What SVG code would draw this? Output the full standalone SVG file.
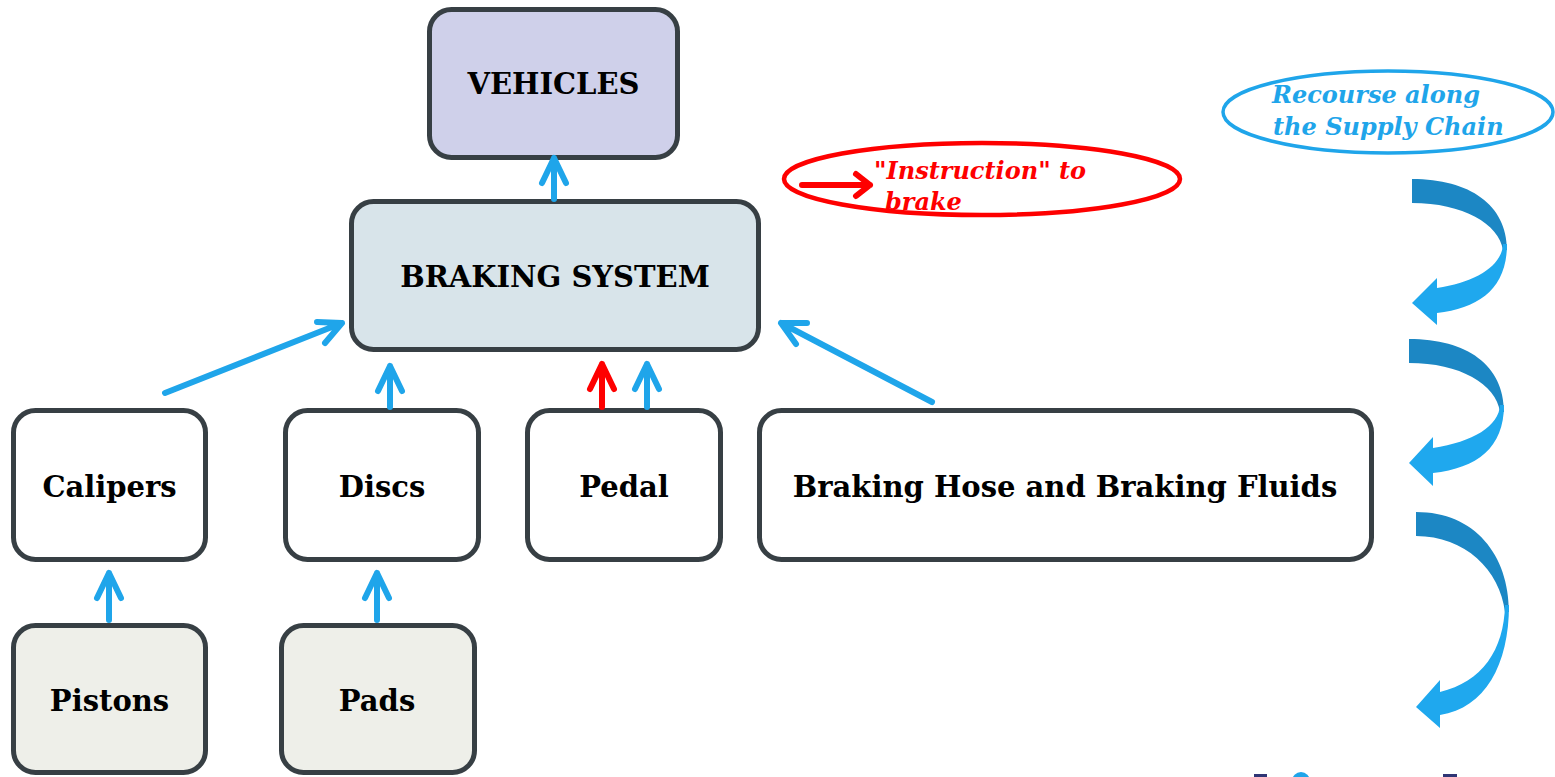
<svg xmlns="http://www.w3.org/2000/svg" width="1555" height="777" viewBox="0 0 1555 777">
<defs>
<style>
.box{stroke:#373f44;stroke-width:5}
.lbl{font-family:"DejaVu Serif","Liberation Serif",serif;font-weight:bold;font-size:29px;fill:#000;text-anchor:middle}
.conn{fill:none;stroke:#1fa5ea;stroke-width:6;stroke-linecap:round;stroke-linejoin:round}
.red{stroke:#fe0000}
.note{font-family:"DejaVu Serif","Liberation Serif",serif;font-weight:bold;font-style:italic;font-size:24px}
.dark{fill:#1c87c4}
.light{fill:#1fa8ee}
</style>
</defs>
<rect width="1555" height="777" fill="#fff"/>
<g id="vehicles"><rect class="box" x="429.5" y="9.5" width="248" height="148" rx="22" fill="#cfd0ea"/><text class="lbl" x="553.5" y="94" font-size="30">VEHICLES</text></g>
<g id="braking-system"><rect class="box" x="351.5" y="201.5" width="407" height="148" rx="22" fill="#d8e4ea"/><text class="lbl" x="555" y="287" font-size="30">BRAKING SYSTEM</text></g>
<g id="calipers"><rect class="box" x="13.5" y="410.5" width="192" height="149" rx="22" fill="#fff"/><text class="lbl" x="109.5" y="497">Calipers</text></g>
<g id="discs"><rect class="box" x="285.5" y="410.5" width="193" height="149" rx="22" fill="#fff"/><text class="lbl" x="382" y="497">Discs</text></g>
<g id="pedal"><rect class="box" x="527.5" y="410.5" width="193" height="149" rx="22" fill="#fff"/><text class="lbl" x="624" y="497">Pedal</text></g>
<g id="hose"><rect class="box" x="759.5" y="410.5" width="612" height="149" rx="22" fill="#fff"/><text class="lbl" x="1065" y="497">Braking Hose and Braking Fluids</text></g>
<g id="pistons"><rect class="box" x="13.5" y="625.5" width="192" height="147" rx="22" fill="#eeefe9"/><text class="lbl" x="109.5" y="711">Pistons</text></g>
<g id="pads"><rect class="box" x="281.5" y="625.5" width="193" height="147" rx="22" fill="#eeefe9"/><text class="lbl" x="377" y="711">Pads</text></g>
<g id="connectors">
<path class="conn" d="M554,199 V158 M542,183 L554,158 L566,183"/>
<path class="conn" d="M165,393 L342,323 M317,322 L342,323 L325,343"/>
<path class="conn" d="M390,407 V366 M378,391 L390,366 L402,391"/>
<path class="conn red" d="M602,407 V364 M590,389 L602,364 L614,389"/>
<path class="conn" d="M647,407 V364 M635,389 L647,364 L659,389"/>
<path class="conn" d="M932,402 L781,323 M807,323 L781,323 L796,344"/>
<path class="conn" d="M109,620 V573 M97,598 L109,573 L121,598"/>
<path class="conn" d="M377,620 V573 M365,598 L377,573 L389,598"/>
</g>
<g id="instruction-note">
<ellipse cx="982" cy="179" rx="198" ry="36" fill="none" stroke="#fe0000" stroke-width="4.5"/>
<path class="conn red" stroke-width="5" d="M802,185 H870 M856,174 L870,185 L856,196"/>
<text class="note" x="874" y="179" font-size="25" fill="#fe0000">"Instruction" to</text>
<text class="note" x="885" y="210" font-size="25" fill="#fe0000">brake</text>
</g>
<g id="recourse-note">
<ellipse cx="1388" cy="112" rx="165" ry="41" fill="none" stroke="#1fa5ea" stroke-width="3.5"/>
<text class="note" x="1272" y="103" fill="#1fa5ea">Recourse along</text>
<text class="note" x="1273" y="135" fill="#1fa5ea">the Supply Chain</text>
</g>
<g id="curved-arrows">
<path class="dark" d="M1412,179 C1470,179 1507,205 1507,250 L1503,250 C1499,224 1463,203 1412,203 Z"/>
<path class="light" d="M1507,244 C1507,288 1480,308 1437,313 L1437,325 L1412,303 L1437,278 L1437,288 C1476,282 1502,266 1503,244 Z"/>
<path class="dark" d="M1409,339 C1467,339 1504,365 1504,412 L1500,412 C1496,384 1460,363 1409,363 Z"/>
<path class="light" d="M1504,405 C1504,448 1477,468 1433,473 L1433,486 L1409,463 L1433,437 L1433,448 C1473,442 1499,426 1500,405 Z"/>
<path class="dark" d="M1416,512 C1475,512 1509,555 1509,612 L1505,612 C1500,570 1465,536 1416,536 Z"/>
<path class="light" d="M1509,605 C1509,665 1485,708 1440,715 L1440,728 L1416,707 L1440,680 L1440,692 C1482,682 1504,650 1505,605 Z"/>
</g>
<g id="cut-off-logo">
<rect x="1254" y="774" width="13" height="3" fill="#2f3575"/>
<circle cx="1301" cy="781" r="9" fill="#1fa5ea"/>
<rect x="1443" y="774" width="14" height="3" fill="#2f3575"/>
</g>
</svg>
